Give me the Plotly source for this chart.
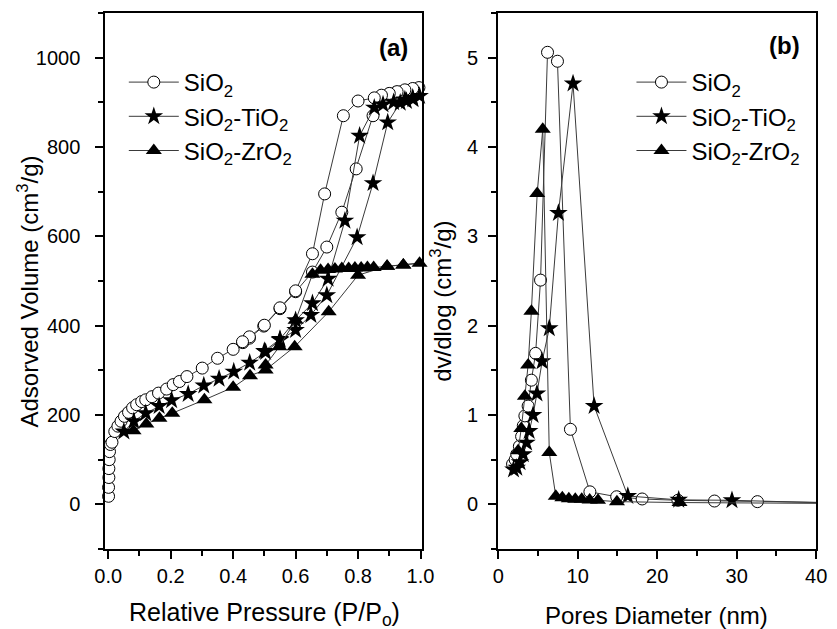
import plotly.graph_objects as go

# ---- (a) N2 adsorption-desorption isotherms: relative pressure vs adsorbed volume ----
# Each sample: adsorption branch followed by desorption branch (one continuous loop)
sio2_p = [0.001, 0.001, 0.002, 0.002, 0.003, 0.004, 0.007, 0.012, 0.021, 0.031,
          0.041, 0.052, 0.065, 0.078, 0.091, 0.107, 0.12, 0.14, 0.161, 0.187,
          0.208, 0.228, 0.252, 0.301, 0.35, 0.40, 0.431, 0.452, 0.498, 0.55,
          0.60, 0.654, 0.70, 0.748, 0.794, 0.848, 0.875, 0.90, 0.92, 0.94,
          0.96, 0.98, 0.995,
          0.975, 0.95, 0.925, 0.90, 0.875, 0.852, 0.80, 0.753, 0.693, 0.654,
          0.60, 0.55, 0.50, 0.452, 0.43]
sio2_v = [18, 38, 60, 80, 100, 118, 134, 139, 163, 175,
          186, 197, 206, 216, 223, 230, 234, 241, 249, 258,
          268, 275, 286, 305, 327, 347, 362, 372, 399, 438,
          476, 520, 576, 654, 751, 870, 914, 918, 922, 924,
          926, 929, 933,
          931, 928, 924, 920, 916, 910, 903, 870, 695, 561,
          478, 440, 401, 375, 364]

sti_p = [0.05, 0.082, 0.12, 0.163, 0.203, 0.256, 0.306, 0.355, 0.402, 0.453,
         0.504, 0.55, 0.60, 0.649, 0.70, 0.797, 0.848, 0.895, 0.935, 0.955,
         0.976, 0.997,
         0.975, 0.95, 0.914, 0.88, 0.852, 0.805, 0.758, 0.704, 0.654, 0.60,
         0.55, 0.50]
sti_v = [163, 186, 204, 220, 233, 247, 266, 281, 297, 317,
         341, 368, 390, 424, 468, 598, 719, 855, 899, 903,
         907, 914,
         910, 906, 900, 895, 888, 825, 635, 505, 450, 412,
         370, 343]

szr_p = [0.081, 0.122, 0.164, 0.205, 0.308, 0.40, 0.454, 0.504, 0.597, 0.706,
         0.80, 0.893, 0.945, 0.997,
         0.945, 0.893, 0.85, 0.83, 0.81, 0.79, 0.77, 0.748, 0.726, 0.704,
         0.68, 0.654, 0.60, 0.548, 0.504]
szr_v = [165, 180, 193, 204, 234, 262, 288, 301, 353, 431,
         513, 533, 536, 540,
         536, 533, 530, 530, 529, 529, 528, 528, 527, 526,
         524, 515, 412, 353, 312]

# ---- (b) pore size distributions: pore diameter (nm) vs dV/dlogD ----
sio2_d = [1.8, 2.13, 2.33, 2.66, 2.94, 3.15, 3.35, 3.76, 4.17, 4.7,
          5.32, 6.2, 7.45, 9.08, 11.53, 14.9, 18.1, 22.6, 27.2, 32.6, 42.0]
sio2_dv = [0.45, 0.50, 0.56, 0.65, 0.76, 0.88, 0.99, 1.10, 1.39, 1.69,
           2.51, 5.06, 4.96, 0.84, 0.14, 0.085, 0.06, 0.045, 0.037, 0.03, 0.02]

sti_d = [1.92, 2.33, 2.74, 3.15, 3.56, 3.89, 4.38, 4.87, 5.52, 6.42,
         7.57, 9.41, 12.06, 16.3, 22.7, 29.4, 42.0]
sti_dv = [0.39, 0.41, 0.47, 0.56, 0.69, 0.82, 1.0, 1.24, 1.60, 1.97,
          3.26, 4.71, 1.10, 0.093, 0.05, 0.045, 0.015]

szr_d = [2.5, 2.9, 3.35, 3.76, 4.17, 4.9, 5.6, 6.42, 7.24, 8.06,
         8.88, 9.69, 10.5, 11.5, 12.55, 14.93, 22.8, 42.0]
szr_dv = [0.60, 0.85, 1.21, 1.56, 2.16, 3.48, 4.20, 0.58, 0.09, 0.075,
          0.063, 0.056, 0.056, 0.048, 0.045, 0.03, 0.02, 0.01]

names = ["SiO<sub>2</sub>", "SiO<sub>2</sub>-TiO<sub>2</sub>", "SiO<sub>2</sub>-ZrO<sub>2</sub>"]

FONT = "Arial, Liberation Sans, sans-serif"
LINE = dict(color="#3a3a3a", width=1)
markers = [
    dict(symbol="circle", size=12, color="white", line=dict(color="black", width=1)),
    dict(symbol="star", size=14, color="black", line=dict(color="black", width=0)),
    dict(symbol="triangle-up", size=14, color="black", line=dict(color="black", width=0)),
]

fig = go.Figure()

iso = [(sio2_p, sio2_v), (sti_p, sti_v), (szr_p, szr_v)]
for (xs, ys), nm, mk in zip(iso, names, markers):
    fig.add_trace(go.Scatter(x=xs, y=ys, name=nm, mode="lines+markers",
                             line=LINE, marker=mk, cliponaxis=False,
                             xaxis="x", yaxis="y", legend="legend"))

psd = [(sio2_d, sio2_dv), (sti_d, sti_dv), (szr_d, szr_dv)]
for (xs, ys), nm, mk in zip(psd, names, markers):
    fig.add_trace(go.Scatter(x=xs, y=ys, name=nm, mode="lines+markers",
                             line=LINE, marker=mk,
                             xaxis="x2", yaxis="y2", legend="legend2"))

W, H = 837, 629
def px(x):
    return x / W
def py(y):
    return 1 - y / H

axis_common = dict(showline=True, linewidth=2, linecolor="black", mirror=True,
                   ticks="outside", ticklen=8, tickwidth=2, tickcolor="black",
                   showgrid=False, zeroline=False,
                   tickfont=dict(family=FONT, size=20, color="black"))
minor_common = dict(ticks="outside", ticklen=5, tickwidth=2, tickcolor="black", showgrid=False)

fig.update_layout(
    width=W, height=H,
    margin=dict(l=0, r=0, t=0, b=0),
    paper_bgcolor="white", plot_bgcolor="white",
    font=dict(family=FONT, color="black"),
    xaxis=dict(domain=[px(97), px(423)], range=[-0.0093, 1.006], dtick=0.2,
               tickformat=".1f", anchor="y", minor=dict(dtick=0.1, **minor_common),
               **axis_common),
    yaxis=dict(domain=[py(549), py(13)], range=[-100, 1100], dtick=200,
               anchor="x", minor=dict(dtick=100, **minor_common),
               ticklabelstandoff=11, **axis_common),
    xaxis2=dict(domain=[px(501), px(828)], range=[0, 40], dtick=10,
                anchor="y2", minor=dict(dtick=5, **minor_common), **axis_common),
    yaxis2=dict(domain=[py(549), py(13)], range=[-0.5, 5.5], dtick=1,
                anchor="x2", minor=dict(dtick=0.5, **minor_common),
                ticklabelstandoff=6, **axis_common),
    legend=dict(x=px(116), y=py(60), xanchor="left", yanchor="top",
                bgcolor="rgba(0,0,0,0)", font=dict(family=FONT, size=24, color="black"),
                itemwidth=50, tracegroupgap=0),
    legend2=dict(x=px(638), y=py(60), xanchor="left", yanchor="top",
                 bgcolor="rgba(0,0,0,0)", font=dict(family=FONT, size=24, color="black"),
                 itemwidth=50, tracegroupgap=0),
    showlegend=True,
)

annotations = [
    dict(text="<b>(a)</b>", x=px(393), y=py(47), font=dict(size=24)),
    dict(text="<b>(b)</b>", x=px(795), y=py(45), font=dict(size=24)),
    dict(text="Relative Pressure (P/P<sub>o</sub>)", x=px(261), y=py(614), font=dict(size=25)),
    dict(text="Pores Diameter (nm)", x=px(664), y=py(615), font=dict(size=24)),
    dict(text="Adsorved Volume (cm<sup>3</sup>/g)", x=px(17), y=py(292), textangle=-90,
         font=dict(size=24)),
    dict(text="dv/dlog (cm<sup>3</sup>/g)", x=px(442), y=py(301), textangle=-90,
         font=dict(size=24)),
]
for a in annotations:
    fig.add_annotation(xref="paper", yref="paper", showarrow=False,
                       xanchor="center", yanchor="middle",
                       font_family=FONT, font_color="black", **{k: v for k, v in a.items()})

fig.write_html("out.html")
